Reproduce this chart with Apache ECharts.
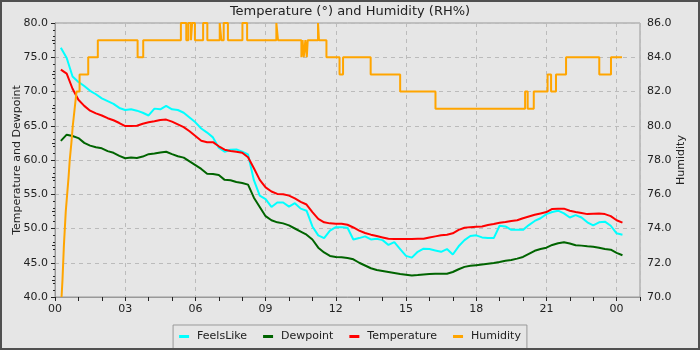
<!DOCTYPE html>
<html><head><meta charset="utf-8">
<script src="https://cdn.jsdelivr.net/npm/echarts@6/dist/echarts.min.js"></script>
<style>html,body{margin:0;padding:0;background:#e6e6e6}#c{width:700px;height:350px}</style>
</head><body><div id="c"></div>
<script>
// sample times in hours since midnight (values past 24 are the next day)
const sampleHours = [0.25,0.5,0.75,1,1.25,1.5,1.75,2,2.25,2.5,2.75,3,3.25,3.5,3.75,4,4.25,4.5,4.75,5,5.25,5.5,5.75,6,
6.25,6.5,6.75,7,7.25,7.5,7.75,8,8.25,8.5,8.75,9,9.25,9.5,9.75,10,10.25,10.5,10.75,11,11.25,11.5,11.75,12,
12.25,12.5,12.75,13,13.25,13.5,13.75,14,14.25,14.5,14.75,15,15.25,15.5,15.75,16,16.25,16.5,16.75,17,17.25,17.5,17.75,18,
18.25,18.5,18.75,19,19.25,19.5,19.75,20,20.25,20.5,20.75,21,21.25,21.5,21.75,22,22.25,22.5,22.75,23,23.25,23.5,23.75,24,24.25];
const feelsLike = [76.4,74.9,72.2,71.4,70.8,70.1,69.6,69.0,68.6,68.2,67.6,67.3,
67.4,67.2,66.9,66.5,67.5,67.4,67.9,67.4,67.3,66.9,66.2,65.5,
64.6,64.0,63.3,61.8,61.2,61.5,61.55,61.2,60.8,57.05,54.8,54.3,
53.15,53.8,53.8,53.2,53.7,52.9,52.6,50.3,49.0,48.6,49.7,50.2,
50.2,50.1,48.4,48.6,48.85,48.4,48.5,48.3,47.6,48.0,47.0,46.0,
45.75,46.6,47.05,47.0,46.8,46.6,47.0,46.2,47.4,48.3,48.9,49.0,
48.7,48.6,48.6,50.4,50.3,49.8,49.8,49.8,50.5,51.1,51.5,52.1,
52.4,52.6,52.2,51.6,51.95,51.6,50.9,50.45,50.9,51.0,50.4,49.3,
49.1];
const dewpoint = [62.8,63.7,63.5,63.2,62.5,62.1,61.85,61.7,61.3,61.05,60.6,60.25,
60.35,60.3,60.5,60.85,60.95,61.1,61.2,60.85,60.55,60.35,59.8,59.25,
58.7,58.0,57.95,57.8,57.1,57.05,56.8,56.65,56.4,54.5,53.15,51.8,
51.2,50.9,50.75,50.45,50.0,49.55,49.1,48.4,47.2,46.5,46.0,45.85,
45.8,45.7,45.5,45.0,44.6,44.2,43.95,43.8,43.65,43.5,43.35,43.25,
43.15,43.2,43.3,43.35,43.4,43.4,43.4,43.65,44.05,44.4,44.55,44.65,
44.75,44.85,44.95,45.1,45.3,45.4,45.6,45.85,46.3,46.75,47.0,47.2,
47.6,47.85,48.0,47.8,47.55,47.5,47.4,47.35,47.2,47.0,46.9,46.45,
46.1];
const temperature = [73.2,72.6,70.4,68.8,67.9,67.2,66.8,66.5,66.1,65.8,65.4,64.95,
64.95,65.0,65.3,65.5,65.65,65.85,65.9,65.6,65.2,64.8,64.2,63.5,
62.8,62.6,62.6,62.0,61.5,61.3,61.2,61.05,60.4,58.8,57.1,56.0,
55.4,55.05,55.0,54.8,54.4,53.9,53.5,52.4,51.4,50.9,50.75,50.7,
50.7,50.55,50.15,49.7,49.35,49.1,48.9,48.7,48.5,48.45,48.45,48.45,
48.45,48.5,48.5,48.7,48.85,49.0,49.1,49.3,49.8,50.1,50.2,50.25,
50.3,50.5,50.65,50.85,50.95,51.1,51.2,51.5,51.75,52.0,52.2,52.4,
52.85,52.9,52.9,52.6,52.4,52.25,52.1,52.15,52.2,52.1,51.8,51.2,
50.85];
// humidity change points (hours) and the value held from each
const humidityHours = [0.28,0.32,0.35,0.38,0.42,0.46,0.52,0.58,0.63,0.70,0.76,0.84,0.92,1.05,1.42,1.83,
3.53,3.77,5.38,5.61,5.70,5.81,5.86,5.98,6.33,6.51,7.04,7.11,7.21,7.39,8.01,8.21,9.46,9.53,
10.53,10.58,10.63,10.70,10.76,10.80,11.24,11.28,11.60,12.16,12.31,13.49,14.75,16.26,
20.09,20.20,20.46,21.05,21.20,21.41,21.84,23.26,23.76,24.23];
const humidity = [70,71,72,73,74,75,76,77,78,79,80,81,82,83,84,85,
84,85,86,85,86,85,86,85,86,85,86,85,86,85,86,85,86,85,
84,85,84,85,84,85,86,85,84,83,84,83,82,81,
82,81,82,83,82,83,84,83,84,84];
const hourLabels = ['00','03','06','09','12','15','18','21','00'];
const seriesNames = ['FeelsLike','Dewpoint','Temperature','Humidity'];
const seriesColors = ['#00ffff','#006400','#ff0000','#ffa500'];

const pair = (xs, ys) => xs.map((x, i) => [x, ys[i]]);
const font = 'DejaVu Sans';
const chart = echarts.init(document.getElementById('c'), null, {renderer: 'canvas'});
chart.setOption({
  backgroundColor: '#e6e6e6',
  animation: false,
  color: seriesColors,
  textStyle: {fontFamily: font},
  title: {text: 'Temperature (°) and Humidity (RH%)', left: 'center', top: 0,
    textStyle: {fontFamily: font, fontSize: 13, fontWeight: 'normal', color: '#222'}},
  graphic: [{type: 'rect', shape: {x: 1, y: 1, width: 698, height: 348}, silent: true, z: 100,
    style: {fill: 'none', stroke: '#505050', lineWidth: 2}}],
  grid: {left: 55, right: 60, top: 23, bottom: 53, show: true, borderColor: '#999', borderWidth: 1,
    backgroundColor: '#e6e6e6', containLabel: false, outerBoundsMode: 'none'},
  legend: {top: 325, left: 'center', icon: 'rect', itemWidth: 10, itemHeight: 3, itemGap: 16,
    borderColor: '#999', borderWidth: 1, padding: [6, 6, 8, 6], backgroundColor: '#e6e6e6',
    textStyle: {fontFamily: font, fontSize: 11, color: '#222', padding: [0, 0, 0, 3]},
    data: seriesNames},
  xAxis: [{
    type: 'value', min: 0, max: 25, interval: 1,
    axisLine: {lineStyle: {color: '#999'}},
    axisTick: {length: 4, lineStyle: {color: '#222'}},
    axisLabel: {fontFamily: font, fontSize: 11, color: '#222', margin: 7,
      formatter: v => (v % 3 === 0 && v / 3 < hourLabels.length) ? hourLabels[v / 3] : ''},
    splitLine: {show: false}
  }, {
    type: 'value', min: 0, max: 25, interval: 3, position: 'bottom',
    axisLine: {show: false}, axisTick: {show: false}, axisLabel: {show: false},
    splitLine: {show: true, lineStyle: {color: '#bbb', type: [4, 4], width: 1}}
  }],
  yAxis: [{
    type: 'value', min: 40, max: 80, interval: 5,
    name: 'Temperature and Dewpoint', nameLocation: 'middle', nameGap: 32, nameMoveOverlap: false,
    nameTextStyle: {fontFamily: font, fontSize: 11, color: '#222'},
    axisLine: {show: true, lineStyle: {color: '#999'}},
    axisTick: {show: true, length: 4, lineStyle: {color: '#222'}},
    minorTick: {show: true, splitNumber: 5, length: 2, lineStyle: {color: '#222'}},
    axisLabel: {fontFamily: font, fontSize: 11, color: '#222', margin: 7, formatter: v => v.toFixed(1)},
    splitLine: {show: true, lineStyle: {color: '#bbb', type: [4, 4], width: 1}}
  }, {
    type: 'value', min: 70, max: 86, interval: 2, position: 'right',
    name: 'Humidity', nameLocation: 'middle', nameGap: 36, nameMoveOverlap: false,
    nameTextStyle: {fontFamily: font, fontSize: 11, color: '#222'},
    axisLine: {show: true, lineStyle: {color: '#999'}},
    axisTick: {show: true, inside: true, length: 4, lineStyle: {color: '#222'}},
    minorTick: {show: true, splitNumber: 2, length: 3, lineStyle: {color: '#222'}},
    axisLabel: {fontFamily: font, fontSize: 11, color: '#222', margin: 7, formatter: v => v.toFixed(1)},
    splitLine: {show: false}
  }],
  series: [
    {name: seriesNames[0], type: 'line', data: pair(sampleHours, feelsLike), showSymbol: false, symbol: 'none', lineStyle: {width: 2}},
    {name: seriesNames[1], type: 'line', data: pair(sampleHours, dewpoint), showSymbol: false, symbol: 'none', lineStyle: {width: 2}},
    {name: seriesNames[2], type: 'line', data: pair(sampleHours, temperature), showSymbol: false, symbol: 'none', lineStyle: {width: 2}},
    {name: seriesNames[3], type: 'line', yAxisIndex: 1, step: 'end', data: pair(humidityHours, humidity), showSymbol: false, symbol: 'none', lineStyle: {width: 2}}
  ]
});
</script></body></html>
